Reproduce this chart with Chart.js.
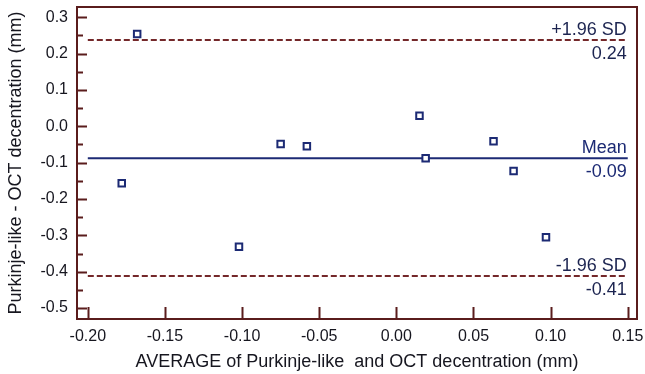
<!DOCTYPE html>
<html>
<head>
<meta charset="utf-8">
<script src="https://cdn.jsdelivr.net/npm/chart.js@4.4.1/dist/chart.umd.min.js"></script>
<style>
  html, body { margin: 0; padding: 0; background: #ffffff; }
  #wrap { width: 645px; height: 374px; position: relative; }
</style>
</head>
<body>
<div id="wrap"><canvas id="bland"></canvas></div>
<script>
// data
var xTickValues = [-0.20, -0.15, -0.10, -0.05, 0.00, 0.05, 0.10, 0.15];
var yTickValues = [-0.5, -0.4, -0.3, -0.2, -0.1, 0.0, 0.1, 0.2, 0.3];
var avgValues  = [-0.178, -0.168, -0.102, -0.075, -0.058, 0.015, 0.019, 0.063, 0.076, 0.097];
var diffValues = [-0.157, 0.254, -0.331, -0.049, -0.055, 0.029, -0.088, -0.041, -0.123, -0.305];
var refNames  = ['+1.96 SD', 'Mean', '-1.96 SD'];
var refValues = [0.237, -0.088, -0.412];
var lineRange = [-0.20, 0.15];

var colors = {
    axis: '#5a1c1c',
    navy: '#1c2a74',
    dash: '#74282a',
    text: '#16161f',
    label: '#1c2450'
};

var points = avgValues.map(function(x, i) { return { x: x, y: diffValues[i] }; });

function refLine(v, i) {
    var isMean = refNames[i] === 'Mean';
    return {
        data: [{ x: lineRange[0], y: v }, { x: lineRange[1], y: v }],
        showLine: true,
        borderColor: isMean ? colors.navy : colors.dash,
        borderWidth: 2,
        borderDash: isMean ? [] : [6, 3],
        pointRadius: 0,
        pointHoverRadius: 0
    };
}

var framePlugin = {
    id: 'frame',
    afterDatasetsDraw: function(chart) {
        var ctx = chart.ctx;
        var a = chart.chartArea;
        var xs = chart.scales.x, ys = chart.scales.y;
        ctx.save();
        ctx.strokeStyle = colors.axis;
        ctx.lineWidth = 2;
        ctx.strokeRect(a.left, a.top, a.right - a.left, a.bottom - a.top);

        // inward ticks
        ctx.beginPath();
        xTickValues.forEach(function(v) {
            var px = Math.round(xs.getPixelForValue(v)) + 0.5;
            ctx.moveTo(px, a.bottom);
            ctx.lineTo(px, a.bottom - 12);
        });
        yTickValues.forEach(function(v, i) {
            var py = Math.round(ys.getPixelForValue(v)) + 0.5;
            ctx.moveTo(a.left, py);
            ctx.lineTo(a.left + 10, py);
            if (i < yTickValues.length - 1) {
                var pm = Math.round(ys.getPixelForValue((v + yTickValues[i + 1]) / 2)) + 0.5;
                ctx.moveTo(a.left, pm);
                ctx.lineTo(a.left + 6, pm);
            }
        });
        ctx.stroke();

        // reference line labels
        ctx.font = '18px "Liberation Sans", Arial, sans-serif';
        ctx.textAlign = 'right';
        var xr = xs.getPixelForValue(lineRange[1]) - 1;
        refValues.forEach(function(v, i) {
            var py = ys.getPixelForValue(v);
            ctx.fillStyle = refNames[i] === 'Mean' ? colors.navy : colors.label;
            ctx.textBaseline = 'bottom';
            ctx.fillText(refNames[i], xr, py - 1);
            ctx.textBaseline = 'top';
            ctx.fillText(v.toFixed(2), xr, py + 5);
        });
        ctx.restore();
    }
};

var ctx = document.getElementById('bland').getContext('2d');
new Chart(ctx, {
    type: 'scatter',
    data: {
        datasets: [{
            data: points,
            pointStyle: 'rect',
            pointRadius: 4.6,
            pointBorderWidth: 2,
            borderColor: colors.navy,
            backgroundColor: '#ffffff'
        }].concat(refValues.map(refLine))
    },
    options: {
        responsive: true,
        maintainAspectRatio: false,
        animation: false,
        events: [],
        layout: { padding: { top: 7, right: 8, left: 0, bottom: 0 } },
        plugins: {
            legend: { display: false },
            tooltip: { enabled: false }
        },
        scales: {
            x: {
                type: 'linear',
                min: -0.207,
                max: 0.156,
                grid: { display: false, drawTicks: false },
                border: { display: false },
                afterBuildTicks: function(scale) {
                    scale.ticks = xTickValues.map(function(v) { return { value: v }; });
                },
                afterFit: function(scale) {
                    scale.height = 55;
                    scale.paddingLeft = 0;
                    scale.paddingRight = 0;
                },
                ticks: {
                    padding: 8,
                    color: colors.text,
                    font: { family: '"Liberation Sans", Arial, sans-serif', size: 16 },
                    callback: function(v) { return v.toFixed(2); }
                },
                title: {
                    display: true,
                    text: 'AVERAGE of Purkinje-like  and OCT decentration (mm)',
                    color: colors.text,
                    padding: { top: 0, bottom: 1 },
                    font: { family: '"Liberation Sans", Arial, sans-serif', size: 18 }
                }
            },
            y: {
                type: 'linear',
                min: -0.53,
                max: 0.328,
                grid: { display: false, drawTicks: false },
                border: { display: false },
                afterBuildTicks: function(scale) {
                    scale.ticks = yTickValues.map(function(v) { return { value: v }; });
                },
                afterFit: function(scale) {
                    scale.width = 77;
                    scale.paddingTop = 0;
                    scale.paddingBottom = 0;
                },
                ticks: {
                    padding: 9,
                    color: colors.text,
                    font: { family: '"Liberation Sans", Arial, sans-serif', size: 16 },
                    callback: function(v) { return v.toFixed(1); }
                },
                title: {
                    display: true,
                    text: 'Purkinje-like - OCT decentration (mm)',
                    color: colors.text,
                    padding: { top: 5, bottom: 0 },
                    font: { family: '"Liberation Sans", Arial, sans-serif', size: 18 }
                }
            }
        }
    },
    plugins: [framePlugin]
});
</script>
</body>
</html>
